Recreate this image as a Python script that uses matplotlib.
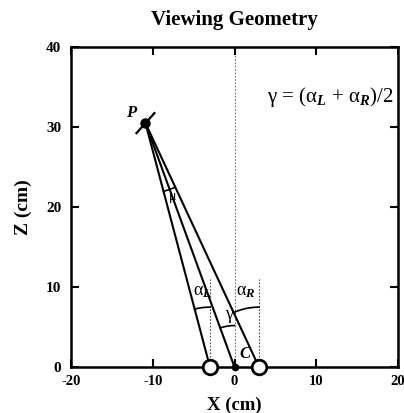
import numpy as np
import matplotlib
matplotlib.use("Agg")
import matplotlib.pyplot as plt

# Data (cm)
point_P = (-10.9, 30.5)
left_eye = (-3.0, 0.0)
right_eye = (3.0, 0.0)
cyclop_C = (0.0, 0.0)
vert_guide_height = 11.0
x_ticks = [-20, -10, 0, 10, 20]
z_ticks = [0, 10, 20, 30, 40]
x_lim = (-20, 20)
z_lim = (0, 40)

plt.rcParams['font.family'] = ['Liberation Serif', 'DejaVu Serif']
plt.rcParams['mathtext.fontset'] = 'custom'
plt.rcParams['mathtext.rm'] = 'Liberation Serif'
plt.rcParams['mathtext.it'] = 'Liberation Serif:italic:bold'
plt.rcParams['mathtext.bf'] = 'Liberation Serif:bold'

fig = plt.figure(figsize=(4.04, 4.13), dpi=100)
ax = fig.add_axes([0.176, 0.111, 0.809, 0.775])
ax.set_xlim(*x_lim)
ax.set_ylim(*z_lim)

# Vertical guides
ax.plot([cyclop_C[0], cyclop_C[0]], [z_lim[0], z_lim[1]], ls=(0, (1.5, 1.5)), color='0.45', lw=0.8, zorder=1)
for e in (left_eye, right_eye):
    ax.plot([e[0], e[0]], [0, vert_guide_height], ls=(0, (1.5, 1.5)), color='0.3', lw=0.8, zorder=1)

# Rays from P
for e in (left_eye, cyclop_C, right_eye):
    ax.plot([point_P[0], e[0]], [point_P[1], e[1]], color='black', lw=1.5, zorder=2)

def arc(center, r, a0, a1):
    t = np.radians(np.linspace(a0, a1, 40))
    ax.plot(center[0] + r * np.cos(t), center[1] + r * np.sin(t), color='black', lw=1.2, zorder=2)

def ang(a, b):
    return np.degrees(np.arctan2(b[1] - a[1], b[0] - a[0]))

arc(left_eye, 7.5, 90, ang(left_eye, point_P))
arc(cyclop_C, 5.2, 90, ang(cyclop_C, point_P))
arc(right_eye, 7.5, 90, ang(right_eye, point_P))
arc(point_P, 8.8, ang(point_P, left_eye), ang(point_P, right_eye))

# Short segment through P
d = np.array([1.1, 1.25])
ax.plot([point_P[0] - d[0], point_P[0] + d[0]], [point_P[1] - d[1], point_P[1] + d[1]], color='black', lw=1.6, zorder=3)

# Markers
ax.plot(*point_P, 'o', color='black', ms=6.5, zorder=4, clip_on=False)
ax.plot(*cyclop_C, 'o', color='black', ms=4.5, zorder=4, clip_on=False)
for e in (left_eye, right_eye):
    ax.plot(*e, 'o', mfc='white', mec='black', mew=2.0, ms=10.5, zorder=5, clip_on=False)

# Labels
ax.text(-12.6, 31.8, 'P', fontsize=12, fontweight='bold', style='italic', ha='center', va='center')
ax.text(1.3, 1.7, 'C', fontsize=12, fontweight='bold', style='italic', ha='center', va='center')
ax.text(-3.9, 9.4, r'$\mathrm{\alpha}_{\mathit{L}}$', fontsize=13, ha='center', va='center')
ax.text(1.4, 9.5, r'$\mathrm{\alpha}_{\mathit{R}}$', fontsize=13, ha='center', va='center')
ax.text(-0.6, 6.3, r'$\mathrm{\gamma}$', fontsize=13, ha='center', va='center')
ax.text(-7.6, 21.1, r'$\mathrm{\mu}$', fontsize=10, ha='center', va='center')
ax.text(11.7, 33.8, r'$\mathrm{\gamma}$ = ($\mathrm{\alpha}_{\mathit{L}}$ + $\mathrm{\alpha}_{\mathit{R}}$)/2',
        fontsize=15, ha='center', va='center')

ax.set_title('Viewing Geometry', fontsize=15, fontweight='bold', pad=16)
ax.set_xlabel('X (cm)', fontsize=13.5, fontweight='bold', labelpad=6)
ax.set_ylabel('Z (cm)', fontsize=14, fontweight='bold', labelpad=10)

ax.set_xticks(x_ticks)
ax.set_yticks(z_ticks)
ax.set_xticklabels([str(v) for v in x_ticks], fontweight='bold', fontsize=10.5)
ax.set_yticklabels([str(v) for v in z_ticks], fontweight='bold', fontsize=11)
ax.tick_params(axis='x', pad=6)
ax.tick_params(axis='y', pad=7)
ax.tick_params(direction='in', length=6, width=1.5, top=True, right=True)
for s in ax.spines.values():
    s.set_linewidth(1.8)

fig.savefig('out.png', dpi=100)
